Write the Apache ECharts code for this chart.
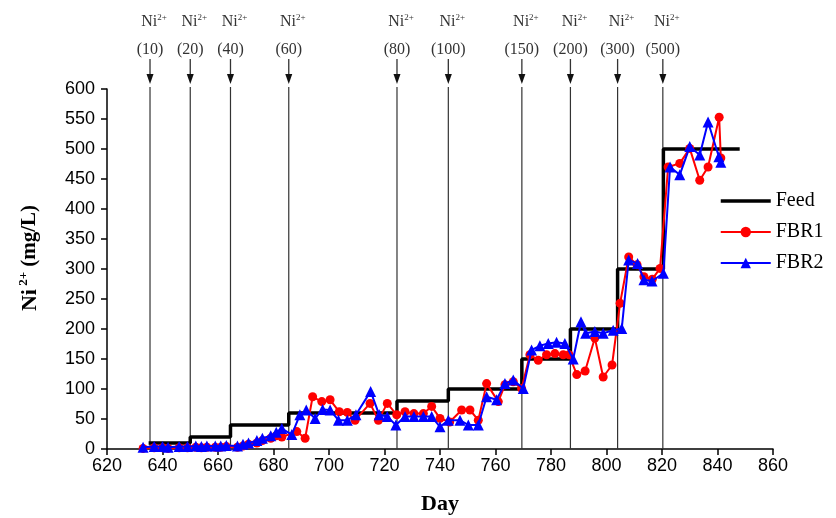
<!DOCTYPE html>
<html>
<head>
<meta charset="utf-8">
<script src="https://cdn.jsdelivr.net/npm/echarts@6/dist/echarts.min.js"></script>
<style>
html,body{margin:0;padding:0;background:#fff;}
#chart{width:836px;height:518px;}
</style>
</head>
<body>
<div id="chart"></div>
<script>
// Feed step line (corner points)
const feedDays = [635, 650, 650, 664.5, 664.5, 685.5, 685.5, 724.5, 724.5, 743, 743, 769.5, 769.5, 787, 787, 804, 804, 820.5, 820.5, 848];
const feedVals = [10, 10, 20, 20, 40, 40, 60, 60, 80, 80, 100, 100, 150, 150, 200, 200, 300, 300, 500, 500];

// FBR1 (red circles)
const fbr1Days = [633, 637, 640, 642, 646, 649, 652, 654, 656, 659, 661, 663, 667, 669, 671, 674, 676, 679, 681, 683, 688.4, 691.4, 694.1, 697.4, 700.4, 703.7, 706.6, 709.4, 714.8, 717.8, 721, 724.4, 727.4, 730.6, 734, 737, 740, 743.5, 747.8, 750.8, 753.8, 756.8, 761, 763.4, 766.4, 769.4, 772.4, 775.4, 778.4, 781.4, 784.4, 786.5, 789.3, 792.3, 795.8, 798.8, 802, 804.9, 808, 811, 813.5, 816.5, 819.3, 822.2, 826.4, 830, 833.6, 836.6, 840.6, 841.2];
const fbr1Vals = [1, 2, 2, 1, 2, 2, 3, 2, 3, 3, 3, 4, 3, 5, 8, 10, 14, 18, 22, 20, 29, 18, 87, 79, 82, 62, 61, 48, 76, 48, 76, 57, 62, 59, 59, 71, 51, 45, 65, 65, 48, 109, 79, 107, 112, 101, 157, 148, 157, 159, 157, 157, 124, 130, 185, 120, 140, 243, 320, 307, 287, 283, 301, 470, 476, 501, 448, 470, 553, 485];

// FBR2 (blue triangles)
const fbr2Days = [633, 637, 640, 642, 646, 649, 652, 654, 656, 659, 661, 663, 667, 669, 671, 674, 676, 679, 681, 683, 686.6, 689.5, 691.8, 695, 697.7, 700.4, 703.4, 706.6, 709.7, 715, 718.1, 721, 724.1, 727.4, 730.6, 734, 737, 740, 743, 747.2, 750.2, 753.8, 756.8, 760.4, 763.4, 766.4, 770, 773, 776, 779, 782, 785, 788, 790.8, 792.5, 795.8, 798.8, 802.4, 805.5, 808, 811.2, 813.5, 816.4, 820.5, 822.9, 826.4, 830, 833.6, 836.6, 840.5, 841.2];
const fbr2Vals = [3, 4, 4, 3, 4, 4, 5, 4, 5, 5, 5, 6, 5, 8, 10, 14, 18, 22, 28, 34, 24, 57, 65, 51, 66, 65, 48, 48, 57, 96, 57, 54, 40, 54, 54, 54, 54, 37, 48, 48, 40, 40, 87, 82, 109, 115, 101, 165, 172, 176, 178, 176, 150, 212, 193, 196, 193, 198, 201, 315, 309, 282, 280, 293, 470, 457, 504, 490, 545, 487, 478];

// Top annotations (dose changes)
const annotDays = [635.5, 650, 664.5, 685.5, 724.5, 743, 769.5, 787, 804, 820.3];
const annotLabels = ['(10)', '(20)', '(40)', '(60)', '(80)', '(100)', '(150)', '(200)', '(300)', '(500)'];

const xTicks = {min: 620, max: 860, interval: 20};
const yTicks = {min: 0, max: 600, interval: 50};

const zip = (a, b) => a.map((d, i) => [d, b[i]]);

const chart = echarts.init(document.getElementById('chart'), null, {renderer: 'canvas'});

const serif = '"Liberation Serif", "Times New Roman", serif';
const sans = '"Liberation Sans", Arial, sans-serif';

chart.setOption({
  backgroundColor: '#fff',
  animation: false,
  grid: {left: 107, right: 63, top: 89, bottom: 69, containLabel: false, outerBoundsMode: 'none'},
  legend: {
    orient: 'vertical',
    left: 714, top: 186,
    itemWidth: 50, itemHeight: 13, itemGap: 11,
    textStyle: {fontFamily: serif, fontSize: 20, color: '#000'},
    data: [
      {name: 'Feed', itemStyle: {opacity: 0}, lineStyle: {width: 3.5}},
      {name: 'FBR1', lineStyle: {width: 2}},
      {name: 'FBR2', lineStyle: {width: 2}}
    ]
  },
  xAxis: {
    type: 'value', min: xTicks.min, max: xTicks.max, interval: xTicks.interval,
    name: 'Day', nameLocation: 'middle', nameGap: 44,
    nameTextStyle: {fontFamily: serif, fontWeight: 'bold', fontSize: 22, color: '#000'},
    axisLine: {lineStyle: {color: '#000', width: 1.5}},
    axisTick: {show: true, inside: false, length: 6, lineStyle: {color: '#000', width: 1.5}},
    axisLabel: {fontFamily: sans, fontSize: 18, color: '#000', margin: 8},
    splitLine: {show: false}
  },
  yAxis: {
    type: 'value', min: yTicks.min, max: yTicks.max, interval: yTicks.interval,
    name: '{n|Ni}{s| 2+}{u| (mg/L)}', nameLocation: 'middle', nameGap: 64, nameRotate: 90,
    nameTextStyle: {
      padding: [0, 0, 0, 22],
      rich: {
        n: {fontFamily: serif, fontWeight: 'bold', fontSize: 22, color: '#000', lineHeight: 26},
        s: {fontFamily: serif, fontWeight: 'bold', fontSize: 13, color: '#000', verticalAlign: 'top', lineHeight: 26},
        u: {fontFamily: serif, fontWeight: 'bold', fontSize: 21, color: '#000', lineHeight: 26}
      }
    },
    axisLine: {show: true, lineStyle: {color: '#000', width: 1.5}},
    axisTick: {show: true, inside: false, length: 6, lineStyle: {color: '#000', width: 1.5}},
    axisLabel: {fontFamily: sans, fontSize: 18, color: '#000', margin: 12},
    splitLine: {show: false}
  },
  series: [
    {
      name: 'annot', type: 'custom', clip: false, silent: true, z: 1,
      data: annotDays.map((d, i) => [d, 0, i]),
      encode: {x: 0, y: 1},
      renderItem: function (params, api) {
        const top = api.coord([api.value(0), yTicks.max]);
        const bot = api.coord([api.value(0), yTicks.min]);
        const x = top[0];
        const y0 = top[1];
        const idx = api.value(2);
        const col = '#333';
        return {
          type: 'group',
          children: [
            {type: 'line', shape: {x1: x, y1: y0 - 2, x2: x, y2: bot[1]}, style: {stroke: col, lineWidth: 1.2}},
            {type: 'line', shape: {x1: x, y1: y0 - 30, x2: x, y2: y0 - 12}, style: {stroke: col, lineWidth: 1.3}},
            {type: 'polygon', shape: {points: [[x - 3.5, y0 - 15], [x + 3.5, y0 - 15], [x, y0 - 5]]}, style: {fill: '#111'}},
            {type: 'text', x: x, y: y0 - 39, style: {text: annotLabels[idx], fontFamily: serif, fontSize: 16, fill: '#333', align: 'center', verticalAlign: 'middle'}},
            {type: 'text', x: x + 4, y: y0 - 67, style: {
              text: '{n|Ni}{s|2+}', align: 'center', verticalAlign: 'middle',
              rich: {
                n: {fontFamily: serif, fontSize: 16, fill: '#333', lineHeight: 18},
                s: {fontFamily: serif, fontSize: 9, fill: '#333', verticalAlign: 'top', lineHeight: 18}
              }
            }}
          ]
        };
      }
    },
    {
      name: 'Feed', type: 'line', z: 2,
      data: zip(feedDays, feedVals),
      symbol: 'none',
      lineStyle: {color: '#000', width: 3.5},
      itemStyle: {color: '#000'}
    },
    {
      name: 'FBR1', type: 'line', z: 3,
      data: zip(fbr1Days, fbr1Vals),
      symbol: 'circle', symbolSize: 9,
      lineStyle: {color: '#ff0000', width: 2},
      itemStyle: {color: '#ff0000'}
    },
    {
      name: 'FBR2', type: 'line', z: 4,
      data: zip(fbr2Days, fbr2Vals),
      symbol: 'triangle', symbolSize: 11,
      lineStyle: {color: '#0000ff', width: 2},
      itemStyle: {color: '#0000ff'}
    }
  ]
});
</script>
</body>
</html>
